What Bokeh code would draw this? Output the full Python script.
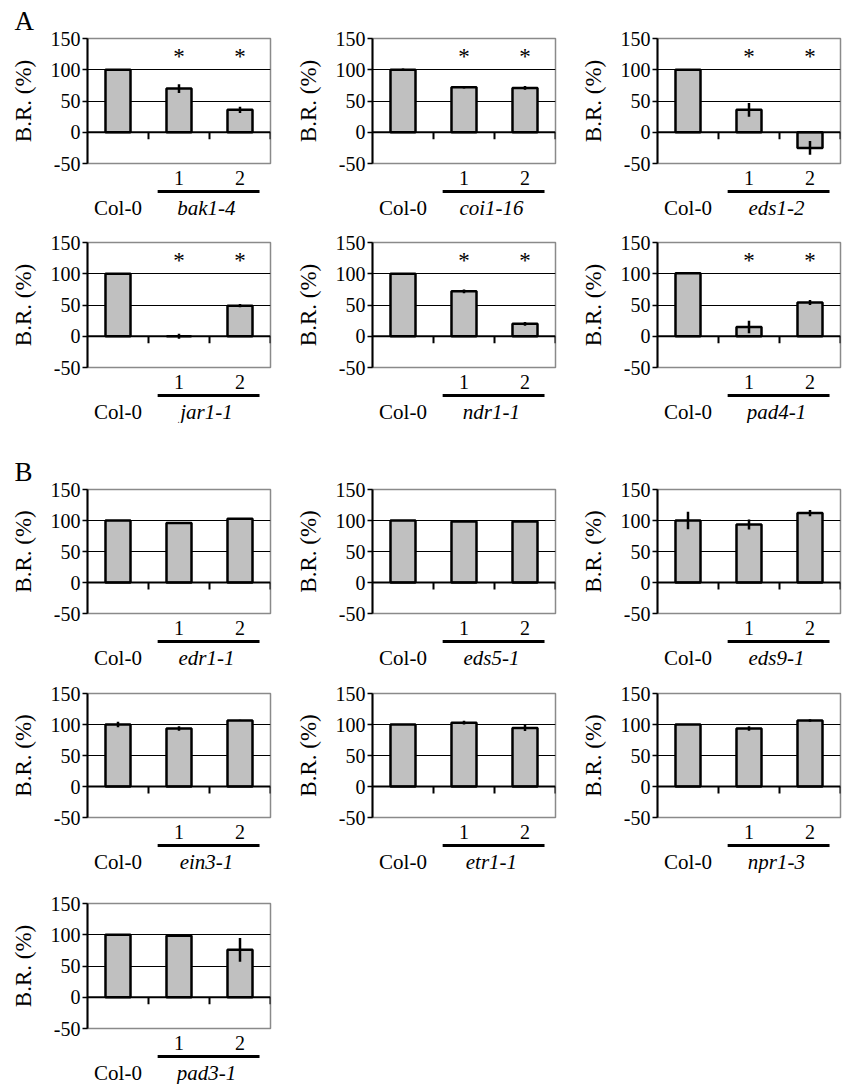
from bokeh.plotting import figure
from bokeh.layouts import column, row
from bokeh.models import Range1d, FixedTicker, LinearAxis, Grid, Span, Title
from bokeh.embed import file_html
from bokeh.resources import INLINE
from bokeh.core.properties import value

# ---------------- data ----------------
lines = ["Col-0", "1", "2"]
line_pos = [0.5, 1.5, 2.5]
boundaries = [1, 2, 3]
y_ticks = [-50, 0, 50, 100, 150]
y_tick_labels = ["-50", "0", "50", "100", "150"]

bak1_4_mean = [100, 70, 36]
bak1_4_err = [1, 7, 5]
coi1_16_mean = [100, 72, 71]
coi1_16_err = [2, 2, 3]
eds1_2_mean = [100, 36, -25]
eds1_2_err = [1, 11, 11]
jar1_1_mean = [100, 0, 49]
jar1_1_err = [1, 4, 2.5]
ndr1_1_mean = [100, 72, 20]
ndr1_1_err = [1, 3, 3]
pad4_1_mean = [101, 15, 54]
pad4_1_err = [1, 10, 4]

edr1_1_mean = [100, 96, 103]
edr1_1_err = [0.5, 0.5, 0.5]
eds5_1_mean = [100, 98.5, 98.5]
eds5_1_err = [1, 1, 1]
eds9_1_mean = [100, 93.5, 112]
eds9_1_err = [14, 8, 5]
ein3_1_mean = [100, 93.5, 106.5]
ein3_1_err = [4.5, 3.5, 1]
etr1_1_mean = [100, 103, 94.5]
etr1_1_err = [0.5, 3, 5]
npr1_3_mean = [100, 93.5, 106.5]
npr1_3_err = [0.5, 3.5, 2]
pad3_1_mean = [100, 98.5, 76]
pad3_1_err = [0.5, 1, 19]

stars_sig = ["", "*", "*"]
stars_none = ["", "", ""]

FONT = "Liberation Serif"
BAR_FILL = "#c0c0c0"
FRAME_GRAY = "#8a8a8a"
FRAME_W = 183
LEFT = 87
LABEL_H = 32


def make_panel(genotype, means, errs, stars, top, fh, right, letter=None):
    p = figure(frame_width=FRAME_W, frame_height=fh,
               x_range=Range1d(0, 3), y_range=Range1d(-50, 150),
               x_axis_type=None, y_axis_type=None,
               output_backend="svg", toolbar_location=None,
               min_border_left=LEFT, min_border_right=right,
               min_border_top=top, min_border_bottom=24)
    p.outline_line_color = FRAME_GRAY
    p.outline_line_width = 1.5
    p.background_fill_color = "white"
    p.border_fill_color = "white"

    if letter is not None:
        t = Title(text=letter, align="left", offset=-(LEFT - 14), standoff=6,
                  text_font=FONT, text_font_size="27px", text_font_style="normal",
                  text_color="black")
        p.add_layout(t, "above")

    ya = LinearAxis(ticker=FixedTicker(ticks=y_ticks), axis_label="B.R. (%)",
                    major_label_overrides=dict(zip(y_ticks, y_tick_labels)))
    ya.axis_line_color = "black"
    ya.axis_line_width = 2
    ya.major_tick_line_color = "black"
    ya.major_tick_line_width = 1.5
    ya.major_tick_out = 5
    ya.major_tick_in = 0
    ya.minor_tick_line_color = None
    ya.major_label_text_font = FONT
    ya.major_label_text_font_size = "20px"
    ya.major_label_text_color = "black"
    ya.major_label_standoff = 2
    ya.axis_label_text_font = FONT
    ya.axis_label_text_font_size = "23px"
    ya.axis_label_text_font_style = "normal"
    ya.axis_label_text_color = "black"
    ya.axis_label_standoff = 12
    p.add_layout(ya, "left")

    xa = LinearAxis(ticker=FixedTicker(ticks=line_pos[1:]),
                    major_label_overrides={line_pos[1]: lines[1], line_pos[2]: lines[2]})
    xa.axis_line_color = None
    xa.major_tick_line_color = None
    xa.minor_tick_line_color = None
    xa.major_tick_out = 0
    xa.major_tick_in = 0
    xa.major_label_standoff = 7
    xa.major_label_text_font = FONT
    xa.major_label_text_font_size = "20px"
    xa.major_label_text_color = "black"
    p.add_layout(xa, "below")

    p.add_layout(Grid(dimension=1, ticker=FixedTicker(ticks=[50, 100]),
                      grid_line_color="black", grid_line_width=1.2))
    p.add_layout(Span(location=0, dimension="width", line_color="black", line_width=2))

    p.vbar(x=line_pos, top=means, bottom=0, width=0.41,
           fill_color=BAR_FILL, line_color="black", line_width=2.5)
    lo = [m - e for m, e in zip(means, errs)]
    hi = [m + e for m, e in zip(means, errs)]
    p.segment(x0=line_pos, y0=lo, x1=line_pos, y1=hi, line_color="black", line_width=2.5)

    ppu = fh / 200.0
    p.segment(x0=boundaries, y0=[0] * 3, x1=boundaries, y1=[-7 / ppu] * 3,
              line_color="black", line_width=2)

    if any(stars):
        p.text(x=line_pos, y=[122] * 3, text=stars, text_align="center",
               text_baseline="middle", text_font=value(FONT),
               text_font_size="23px", text_color="black")

    # label strip under the panel: group underline, Col-0 and genotype name
    q = figure(frame_width=FRAME_W, frame_height=LABEL_H,
               x_range=p.x_range, y_range=Range1d(LABEL_H, 0),
               x_axis_type=None, y_axis_type=None,
               output_backend="svg", toolbar_location=None,
               min_border_left=LEFT, min_border_right=right,
               min_border_top=0, min_border_bottom=0)
    q.outline_line_color = None
    q.grid.visible = False
    q.background_fill_color = "white"
    q.border_fill_color = "white"
    q.segment(x0=[1.15], y0=[4], x1=[2.82], y1=[4], line_color="black", line_width=3)
    q.text(x=[line_pos[0]], y=[20], text=[lines[0]], text_align="center",
           text_baseline="middle", text_font=value(FONT), text_font_size="21px",
           text_color="black")
    q.text(x=[1.95], y=[20], text=[genotype], text_align="center",
           text_baseline="middle", text_font=value(FONT), text_font_size="21px",
           text_font_style="italic", text_color="black")
    return column(p, q, spacing=0)


rows_spec = [
    (38, 125, [("bak1-4", bak1_4_mean, bak1_4_err, stars_sig),
               ("coi1-16", coi1_16_mean, coi1_16_err, stars_sig),
               ("eds1-2", eds1_2_mean, eds1_2_err, stars_sig)], "A"),
    (23, 125, [("jar1-1", jar1_1_mean, jar1_1_err, stars_sig),
               ("ndr1-1", ndr1_1_mean, ndr1_1_err, stars_sig),
               ("pad4-1", pad4_1_mean, pad4_1_err, stars_sig)], None),
    (66, 124, [("edr1-1", edr1_1_mean, edr1_1_err, stars_none),
               ("eds5-1", eds5_1_mean, eds5_1_err, stars_none),
               ("eds9-1", eds9_1_mean, eds9_1_err, stars_none)], "B"),
    (24, 124, [("ein3-1", ein3_1_mean, ein3_1_err, stars_none),
               ("etr1-1", etr1_1_mean, etr1_1_err, stars_none),
               ("npr1-3", npr1_3_mean, npr1_3_err, stars_none)], None),
    (30, 125, [("pad3-1", pad3_1_mean, pad3_1_err, stars_none)], None),
]

layout_rows = []
for top, fh, panels, letter in rows_spec:
    figs = []
    for i, (g, m, e, s) in enumerate(panels):
        right = 2 if i == 2 else 15
        figs.append(make_panel(g, m, e, s, top, fh, right,
                               letter if i == 0 else None))
    layout_rows.append(row(*figs, spacing=0))

layout = column(*layout_rows, spacing=0)
open("out.html", "w").write(file_html(layout, INLINE))
